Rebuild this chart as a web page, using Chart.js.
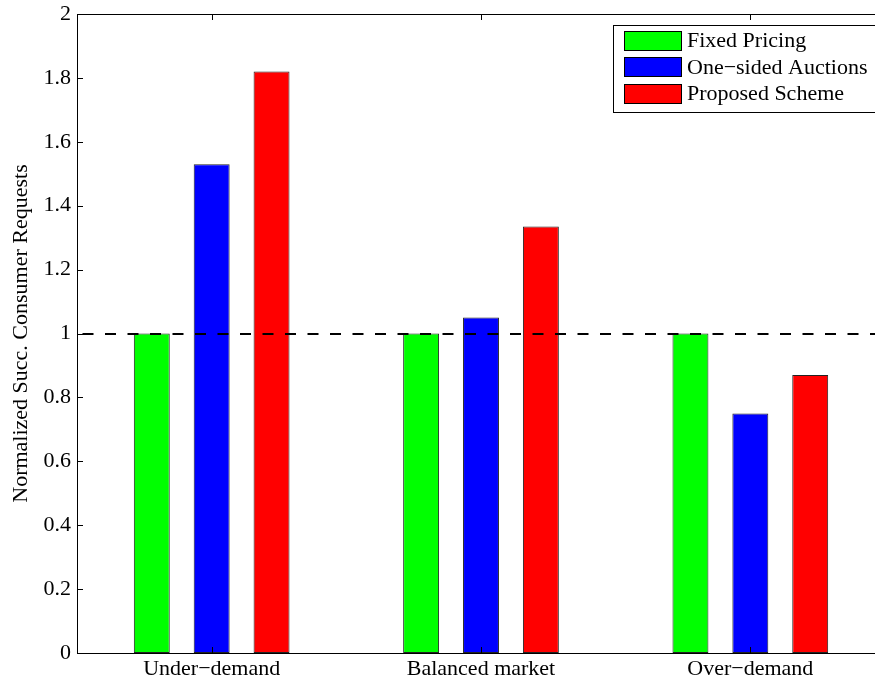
<!DOCTYPE html>
<html>
<head>
<meta charset="utf-8">
<script src="https://cdn.jsdelivr.net/npm/chart.js@4.4.1/dist/chart.umd.min.js"></script>
<style>
  html, body { margin: 0; padding: 0; background: #fff; overflow: hidden; }
  #wrap { position: absolute; left: 0; top: 0; width: 875px; height: 679px; overflow: hidden; }
  canvas { position: absolute; left: 0; top: 0; }
</style>
</head>
<body>
<div id="wrap"><canvas id="c" width="890" height="679"></canvas></div>
<script>
// Market conditions along the x axis
const categories = ['Under\u2212demand', 'Balanced market', 'Over\u2212demand'];

// Normalized successful consumer requests per mechanism
const fixedPricing      = [1.00, 1.00, 1.00];
const oneSidedAuctions  = [1.53, 1.05, 0.75];
const proposedScheme    = [1.82, 1.335, 0.87];

const seriesNames = ['Fixed Pricing', 'One\u2212sided Auctions', 'Proposed Scheme'];

// Y axis tick values and the dashed reference level
const yTicks = [0, 0.2, 0.4, 0.6, 0.8, 1, 1.2, 1.4, 1.6, 1.8, 2];
const referenceLevel = 1;

const FONT = '"Liberation Serif", "Times New Roman", Times, serif';

// Inward-pointing ticks on all four sides, dashed reference line and boxed legend
const axesDecor = {
  id: 'axesDecor',
  afterDatasetsDraw(chart) {
    const ctx = chart.ctx;
    const a = chart.chartArea;
    const xs = chart.scales.x, ys = chart.scales.y;
    ctx.save();

    // dashed reference line
    const yr = Math.round(ys.getPixelForValue(referenceLevel));
    ctx.strokeStyle = '#000';
    ctx.lineWidth = 2;
    ctx.setLineDash([11, 11.5]);
    ctx.lineDashOffset = 17;
    ctx.beginPath();
    ctx.moveTo(a.left, yr);
    ctx.lineTo(a.right, yr);
    ctx.stroke();
    ctx.setLineDash([]);

    // box
    ctx.lineWidth = 1;
    ctx.strokeStyle = '#000';
    ctx.strokeRect(Math.round(a.left) + 0.5, Math.round(a.top) + 0.5,
                   Math.round(a.right - a.left), Math.round(a.bottom - a.top));

    // y ticks (inward, both sides)
    const tl = 6;
    ctx.beginPath();
    yTicks.forEach(v => {
      const y = Math.round(ys.getPixelForValue(v)) + 0.5;
      ctx.moveTo(a.left, y); ctx.lineTo(a.left + tl, y);
      ctx.moveTo(a.right, y); ctx.lineTo(a.right - tl, y);
    });
    // x ticks at category centres (inward, top and bottom)
    categories.forEach((c, i) => {
      const x = Math.round(xs.getPixelForValue(i)) + 0.5;
      ctx.moveTo(x, a.bottom); ctx.lineTo(x, a.bottom - tl);
      ctx.moveTo(x, a.top); ctx.lineTo(x, a.top + tl);
    });
    ctx.stroke();

    // legend
    const lx = 613.5, ly = 25.5, lw = 280, lh = 87;
    ctx.fillStyle = '#fff';
    ctx.fillRect(lx, ly, lw, lh);
    ctx.strokeRect(lx, ly, lw, lh);
    ctx.font = '22px ' + FONT;
    ctx.textBaseline = 'middle';
    ctx.textAlign = 'left';
    chart.data.datasets.forEach((ds, i) => {
      const cy = 40.5 + i * 26.5;
      ctx.fillStyle = ds.backgroundColor;
      ctx.fillRect(624, Math.round(cy - 10), 58, 20);
      ctx.strokeStyle = '#000';
      ctx.strokeRect(624.5, Math.round(cy - 10) + 0.5, 57, 19);
      ctx.fillStyle = '#000';
      ctx.fillText(ds.label, 687, cy + 1);
    });
    ctx.restore();
  }
};

const barStyle = { borderColor: '#222', borderWidth: 1, borderSkipped: false,
                   categoryPercentage: 0.667, barPercentage: 0.6 };

new Chart(document.getElementById('c'), {
  type: 'bar',
  data: {
    labels: categories,
    datasets: [
      Object.assign({ label: seriesNames[0], data: fixedPricing,     backgroundColor: '#00ff00' }, barStyle),
      Object.assign({ label: seriesNames[1], data: oneSidedAuctions, backgroundColor: '#0000ff' }, barStyle),
      Object.assign({ label: seriesNames[2], data: proposedScheme,   backgroundColor: '#ff0000' }, barStyle)
    ]
  },
  options: {
    responsive: false,
    animation: false,
    devicePixelRatio: 1,
    layout: { padding: { top: 14, right: 5, left: 0, bottom: 0 } },
    plugins: { legend: { display: false }, tooltip: { enabled: false } },
    scales: {
      x: {
        grid: { display: false, drawTicks: false },
        border: { display: false },
        ticks: { color: '#000', font: { family: FONT, size: 22 }, padding: 3, maxRotation: 0 },
        afterFit(scale) { scale.height = 26; scale.paddingLeft = 0; scale.paddingRight = 0; }
      },
      y: {
        min: 0, max: 2,
        grid: { display: false, drawTicks: false },
        border: { display: false },
        afterBuildTicks(scale) { scale.ticks = yTicks.map(v => ({ value: v })); },
        ticks: {
          color: '#000', font: { family: FONT, size: 22 }, padding: 6,
          callback: v => String(Math.round(v * 10) / 10)
        },
        title: {
          display: true, text: 'Normalized Succ. Consumer Requests',
          color: '#000', font: { family: FONT, size: 22 }, padding: { top: 8, bottom: 0 }
        },
        afterFit(scale) { scale.width = 77; scale.paddingTop = 0; scale.paddingBottom = 0; }
      }
    }
  },
  plugins: [axesDecor]
});
</script>
</body>
</html>
